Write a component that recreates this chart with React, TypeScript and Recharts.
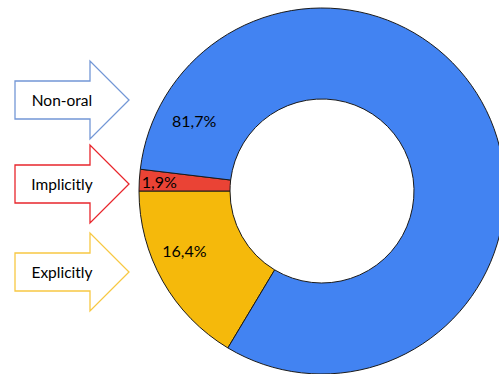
import { PieChart, Pie, Cell } from "recharts"

// slice order clockwise from the lower left
const categories = ["Explicitly", "Implicitly", "Non-oral"]
const shares = [16.4, 1.9, 81.7]
const sliceColors = ["#F5B90B", "#EA4335", "#4283F2"]
const arrowColors = ["#F7C843", "#E8262C", "#7397D6"]

const data = categories.map((name, i) => ({ name, value: shares[i] }))

const W = 499
const H = 374
const CX = 322
const CY = 191
const START = 180 + (shares[0] / 100) * 360

// nudge of label angle / radius so text sits like the original
const labelTweak: Record<string, { da: number; r: number }> = {
  Explicitly: { da: -6, r: 150 },
  Implicitly: { da: 0, r: 163 },
  "Non-oral": { da: 125, r: 146 },
}

const RADIAN = Math.PI / 180

function renderLabel(props: any) {
  const { midAngle, name, value } = props
  const t = labelTweak[name] || { da: 0, r: 140 }
  const a = midAngle + t.da
  const x = CX + t.r * Math.cos(-a * RADIAN)
  const y = CY + t.r * Math.sin(-a * RADIAN)
  return (
    <text x={x} y={y} textAnchor="middle" dominantBaseline="central" fill="#000" fontSize={16}>
      {value.toFixed(1).replace(".", ",")}%
    </text>
  )
}

function Arrow({ y, color, text }: { y: number; color: string; text: string }) {
  // y = arrow tip line
  const pts = [
    [15, y - 19],
    [90, y - 19],
    [90, y - 39],
    [129, y],
    [90, y + 39],
    [90, y + 19],
    [15, y + 19],
  ]
  return (
    <g>
      <polygon points={pts.map((p) => p.join(",")).join(" ")} fill="#fff" stroke={color} strokeWidth={1.3} />
      <text x={62} y={y} textAnchor="middle" dominantBaseline="central" fontSize={15.5} fill="#000">
        {text}
      </text>
    </g>
  )
}

export default function App() {
  return (
    <div style={{ position: "absolute", left: 0, top: 0, width: W, height: H, background: "#fff", fontFamily: "Lato, 'Open Sans', sans-serif", overflow: "hidden" }}>
      <PieChart width={W} height={H} margin={{ top: 0, right: 0, bottom: 0, left: 0 }}>
        <Pie
          data={data}
          dataKey="value"
          nameKey="name"
          cx={CX}
          cy={CY}
          innerRadius={92}
          outerRadius={183}
          startAngle={START}
          endAngle={START - 360}
          stroke="#1a1a1a"
          strokeWidth={1}
          label={renderLabel}
          labelLine={false}
          isAnimationActive={false}
        >
          {data.map((d, i) => (
            <Cell key={d.name} fill={sliceColors[i]} />
          ))}
        </Pie>
      </PieChart>
      <svg width={W} height={H} style={{ position: "absolute", left: 0, top: 0, pointerEvents: "none" }}>
        <Arrow y={100} color={arrowColors[2]} text={categories[2]} />
        <Arrow y={184} color={arrowColors[1]} text={categories[1]} />
        <Arrow y={272} color={arrowColors[0]} text={categories[0]} />
      </svg>
    </div>
  )
}
